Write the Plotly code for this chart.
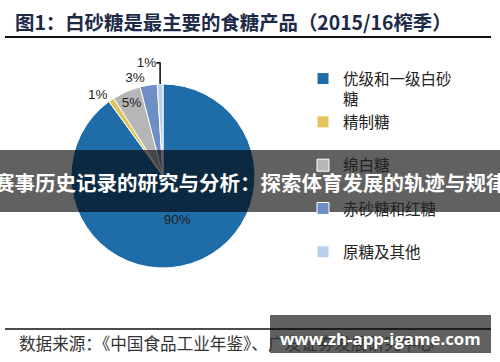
import plotly.graph_objects as go

title_text = "图1：白砂糖是最主要的食糖产品（2015/16榨季）"
labels = ["优级和一级白砂<br>糖", "精制糖<br> ", "绵白糖<br> ", "赤砂糖和红糖<br> ", "原糖及其他<br> "]
values = [90, 1, 5, 3, 1]
colors = ["#1f6da8", "#e3c35b", "#b6b6b6", "#6d8fc6", "#b9cfea"]
text_pos = ["inside", "outside", "inside", "outside", "outside"]
source_text = "数据来源：《中国食品工业年鉴》、广发证券发展研究中心"
banner_text = "赛事历史记录的研究与分析：探索体育发展的轨迹与规律"
url_text = "www.zh-app-igame.com"

W, H = 500, 362
cx, cy, r = 163, 176, 92

fig = go.Figure()
fig.add_trace(go.Pie(
    labels=labels, values=values, sort=False, direction="clockwise", rotation=0,
    marker=dict(colors=colors, line=dict(color="white", width=1)),
    texttemplate="%{percent:.0%}", textposition=text_pos,
    insidetextorientation="horizontal",
    textfont=dict(family="Liberation Sans, Arial", size=13.5, color="#222222"),
    domain=dict(x=[(cx - r) / W, (cx + r) / W], y=[(H - cy - r) / H, (H - cy + r) / H]),
    showlegend=True, hoverinfo="label+percent",
))

fig.update_layout(
    width=W, height=H, margin=dict(l=0, r=0, t=0, b=0),
    paper_bgcolor="white", plot_bgcolor="white",
    font=dict(family="Noto Sans CJK SC"),
    legend=dict(x=303 / W, y=1 - 62 / H, xanchor="left", yanchor="top",
                bgcolor="rgba(0,0,0,0)", valign="top",
                font=dict(family="Noto Sans CJK SC", size=15.5, color="#222222")),
    shapes=[
        dict(type="line", xref="paper", yref="paper", x0=5 / W, x1=491 / W,
             y0=1 - 37 / H, y1=1 - 37 / H, line=dict(color="#111111", width=2)),
        dict(type="line", xref="paper", yref="paper", x0=5 / W, x1=491 / W,
             y0=1 - 329 / H, y1=1 - 329 / H, line=dict(color="#111111", width=1.5)),
        dict(type="rect", xref="paper", yref="paper", x0=0, x1=1,
             y0=1 - 212 / H, y1=1 - 150 / H, layer="above",
             fillcolor="rgba(0,0,0,0.62)", line=dict(width=0)),
        dict(type="rect", xref="paper", yref="paper", x0=270 / W, x1=491 / W,
             y0=1 - 353 / H, y1=1 - 315 / H, layer="above",
             fillcolor="rgba(0,0,0,0.62)", line=dict(width=0)),
    ],
    annotations=[
        dict(text="<b>" + title_text + "</b>", xref="paper", yref="paper",
             x=233 / W, y=1 - 21 / H, xanchor="center", yanchor="middle", showarrow=False,
             font=dict(family="Noto Sans CJK SC", size=19.4, color="#1c2a48")),
        dict(text=source_text, xref="paper", yref="paper",
             x=226 / W, y=1 - 343 / H, xanchor="center", yanchor="middle", showarrow=False,
             font=dict(family="Noto Sans CJK SC", size=16.6, color="#333333")),
        dict(text="<b>" + banner_text + "</b>", xref="paper", yref="paper",
             x=0.5, y=1 - 182 / H, xanchor="center", yanchor="middle", showarrow=False,
             font=dict(family="Noto Sans CJK SC", size=20.5, color="white")),
        dict(text="<b>" + url_text + "</b>", xref="paper", yref="paper",
             x=380 / W, y=1 - 338 / H, xanchor="center", yanchor="middle", showarrow=False,
             font=dict(family="Open Sans", size=16.8, color="white")),
    ],
)

fig.write_html("out.html", config={"displayModeBar": False},
               post_script="document.body.style.margin='0';document.body.style.overflow='hidden';")
